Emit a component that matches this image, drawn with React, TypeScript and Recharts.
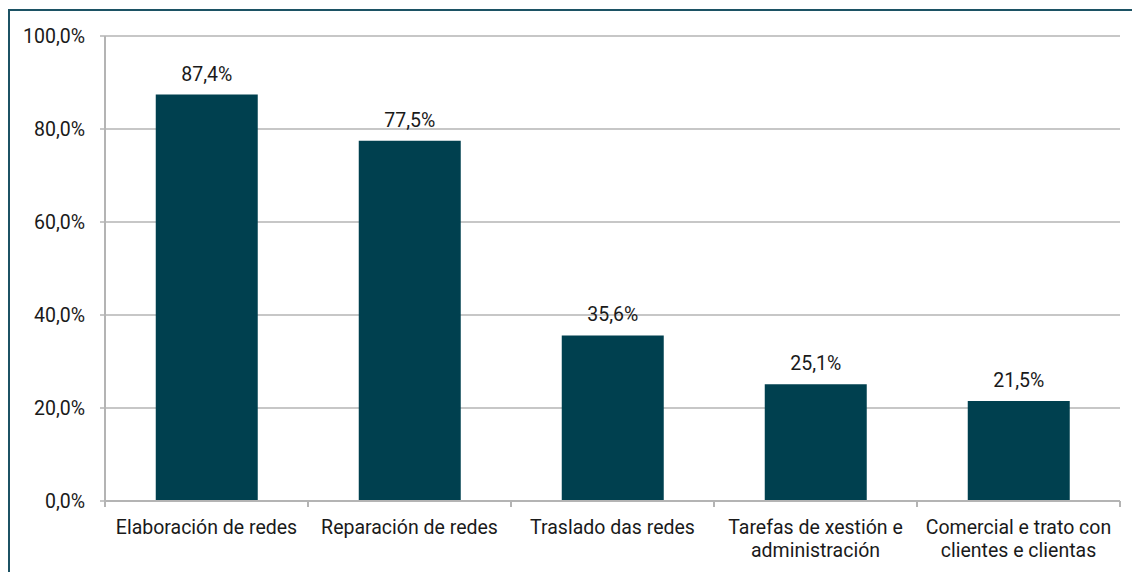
import { BarChart, Bar, XAxis, YAxis, CartesianGrid, LabelList } from "recharts";

const categories = [
  "Elaboración de redes",
  "Reparación de redes",
  "Traslado das redes",
  "Tarefas de xestión e\nadministración",
  "Comercial e trato con\nclientes e clientas",
];
const values = [87.4, 77.5, 35.6, 25.1, 21.5];
const yTicks = [0, 20, 40, 60, 80, 100];

const data = categories.map((name, i) => ({ name, value: values[i] }));

const W = 1132;
const H = 572;
const PLOT_LEFT = 105;
const PLOT_RIGHT = 1120;
const PLOT_TOP = 36;
const PLOT_BOTTOM = 501;
const CAT_W = (PLOT_RIGHT - PLOT_LEFT) / categories.length;

const GRID = "#b4b4b4";
const BAR = "#00404f";
const TEXT = "#1a1a1a";
const FONT = "Roboto, 'Noto Sans', sans-serif";
const FS = 19.5;

const pct = (v: number) => v.toFixed(1).replace(".", ",") + "%";

function CategoryTick(props: any) {
  const { x, payload, index } = props;
  const lines = String(payload.value).split("\n");
  return (
    <g>
      {index === 0 ? (
        <line x1={x - CAT_W / 2} x2={x - CAT_W / 2} y1={PLOT_BOTTOM} y2={PLOT_BOTTOM + 6} stroke={GRID} strokeWidth={2} />
      ) : null}
      <line x1={x + CAT_W / 2} x2={x + CAT_W / 2} y1={PLOT_BOTTOM} y2={PLOT_BOTTOM + 6} stroke={GRID} strokeWidth={2} />
      <text x={x} y={PLOT_BOTTOM + 33} textAnchor="middle" fill={TEXT} fontSize={FS} fontFamily={FONT}>
        {lines.map((l, i) => (
          <tspan key={i} x={x} dy={i === 0 ? 0 : 23}>
            {l}
          </tspan>
        ))}
      </text>
    </g>
  );
}

export default function App() {
  return (
    <div style={{ position: "relative", width: W, height: H, overflow: "hidden", background: "#fff" }}>
      <style>{`body{margin:0}`}</style>
      <div
        style={{
          position: "absolute",
          left: 8,
          top: 9,
          width: 1200,
          height: 700,
          border: "2px solid #1c5264",
        }}
      />
      <div style={{ position: "absolute", left: 0, top: 0 }}>
        <BarChart
          width={W}
          height={H}
          data={data}
          margin={{ top: PLOT_TOP, right: W - PLOT_RIGHT, bottom: H - PLOT_BOTTOM - 60, left: 0 }}
          barCategoryGap="25%"
        >
          <CartesianGrid vertical={false} stroke={GRID} strokeWidth={1.5} />
          <XAxis
            dataKey="name"
            height={60}
            interval={0}
            axisLine={{ stroke: GRID, strokeWidth: 2 }}
            tickLine={false}
            tick={<CategoryTick />}
          />
          <YAxis
            width={PLOT_LEFT}
            domain={[0, 100]}
            ticks={yTicks}
            tickFormatter={pct}
            axisLine={{ stroke: GRID, strokeWidth: 2 }}
            tickLine={{ stroke: GRID, strokeWidth: 1.5 }}
            tickSize={5}
            tickMargin={15}
            tick={{ fill: TEXT, fontSize: FS, fontFamily: FONT }}
          />
          <YAxis
            yAxisId="r"
            orientation="right"
            width={0}
            domain={[0, 100]}
            tick={false}
            tickLine={false}
            axisLine={{ stroke: GRID, strokeWidth: 2.5 }}
          />
          <Bar dataKey="value" fill={BAR} isAnimationActive={false}>
            <LabelList
              dataKey="value"
              position="top"
              offset={14}
              formatter={(v: any) => pct(Number(v))}
              style={{ fill: TEXT, fontSize: FS, fontFamily: FONT }}
            />
          </Bar>
        </BarChart>
      </div>
    </div>
  );
}
